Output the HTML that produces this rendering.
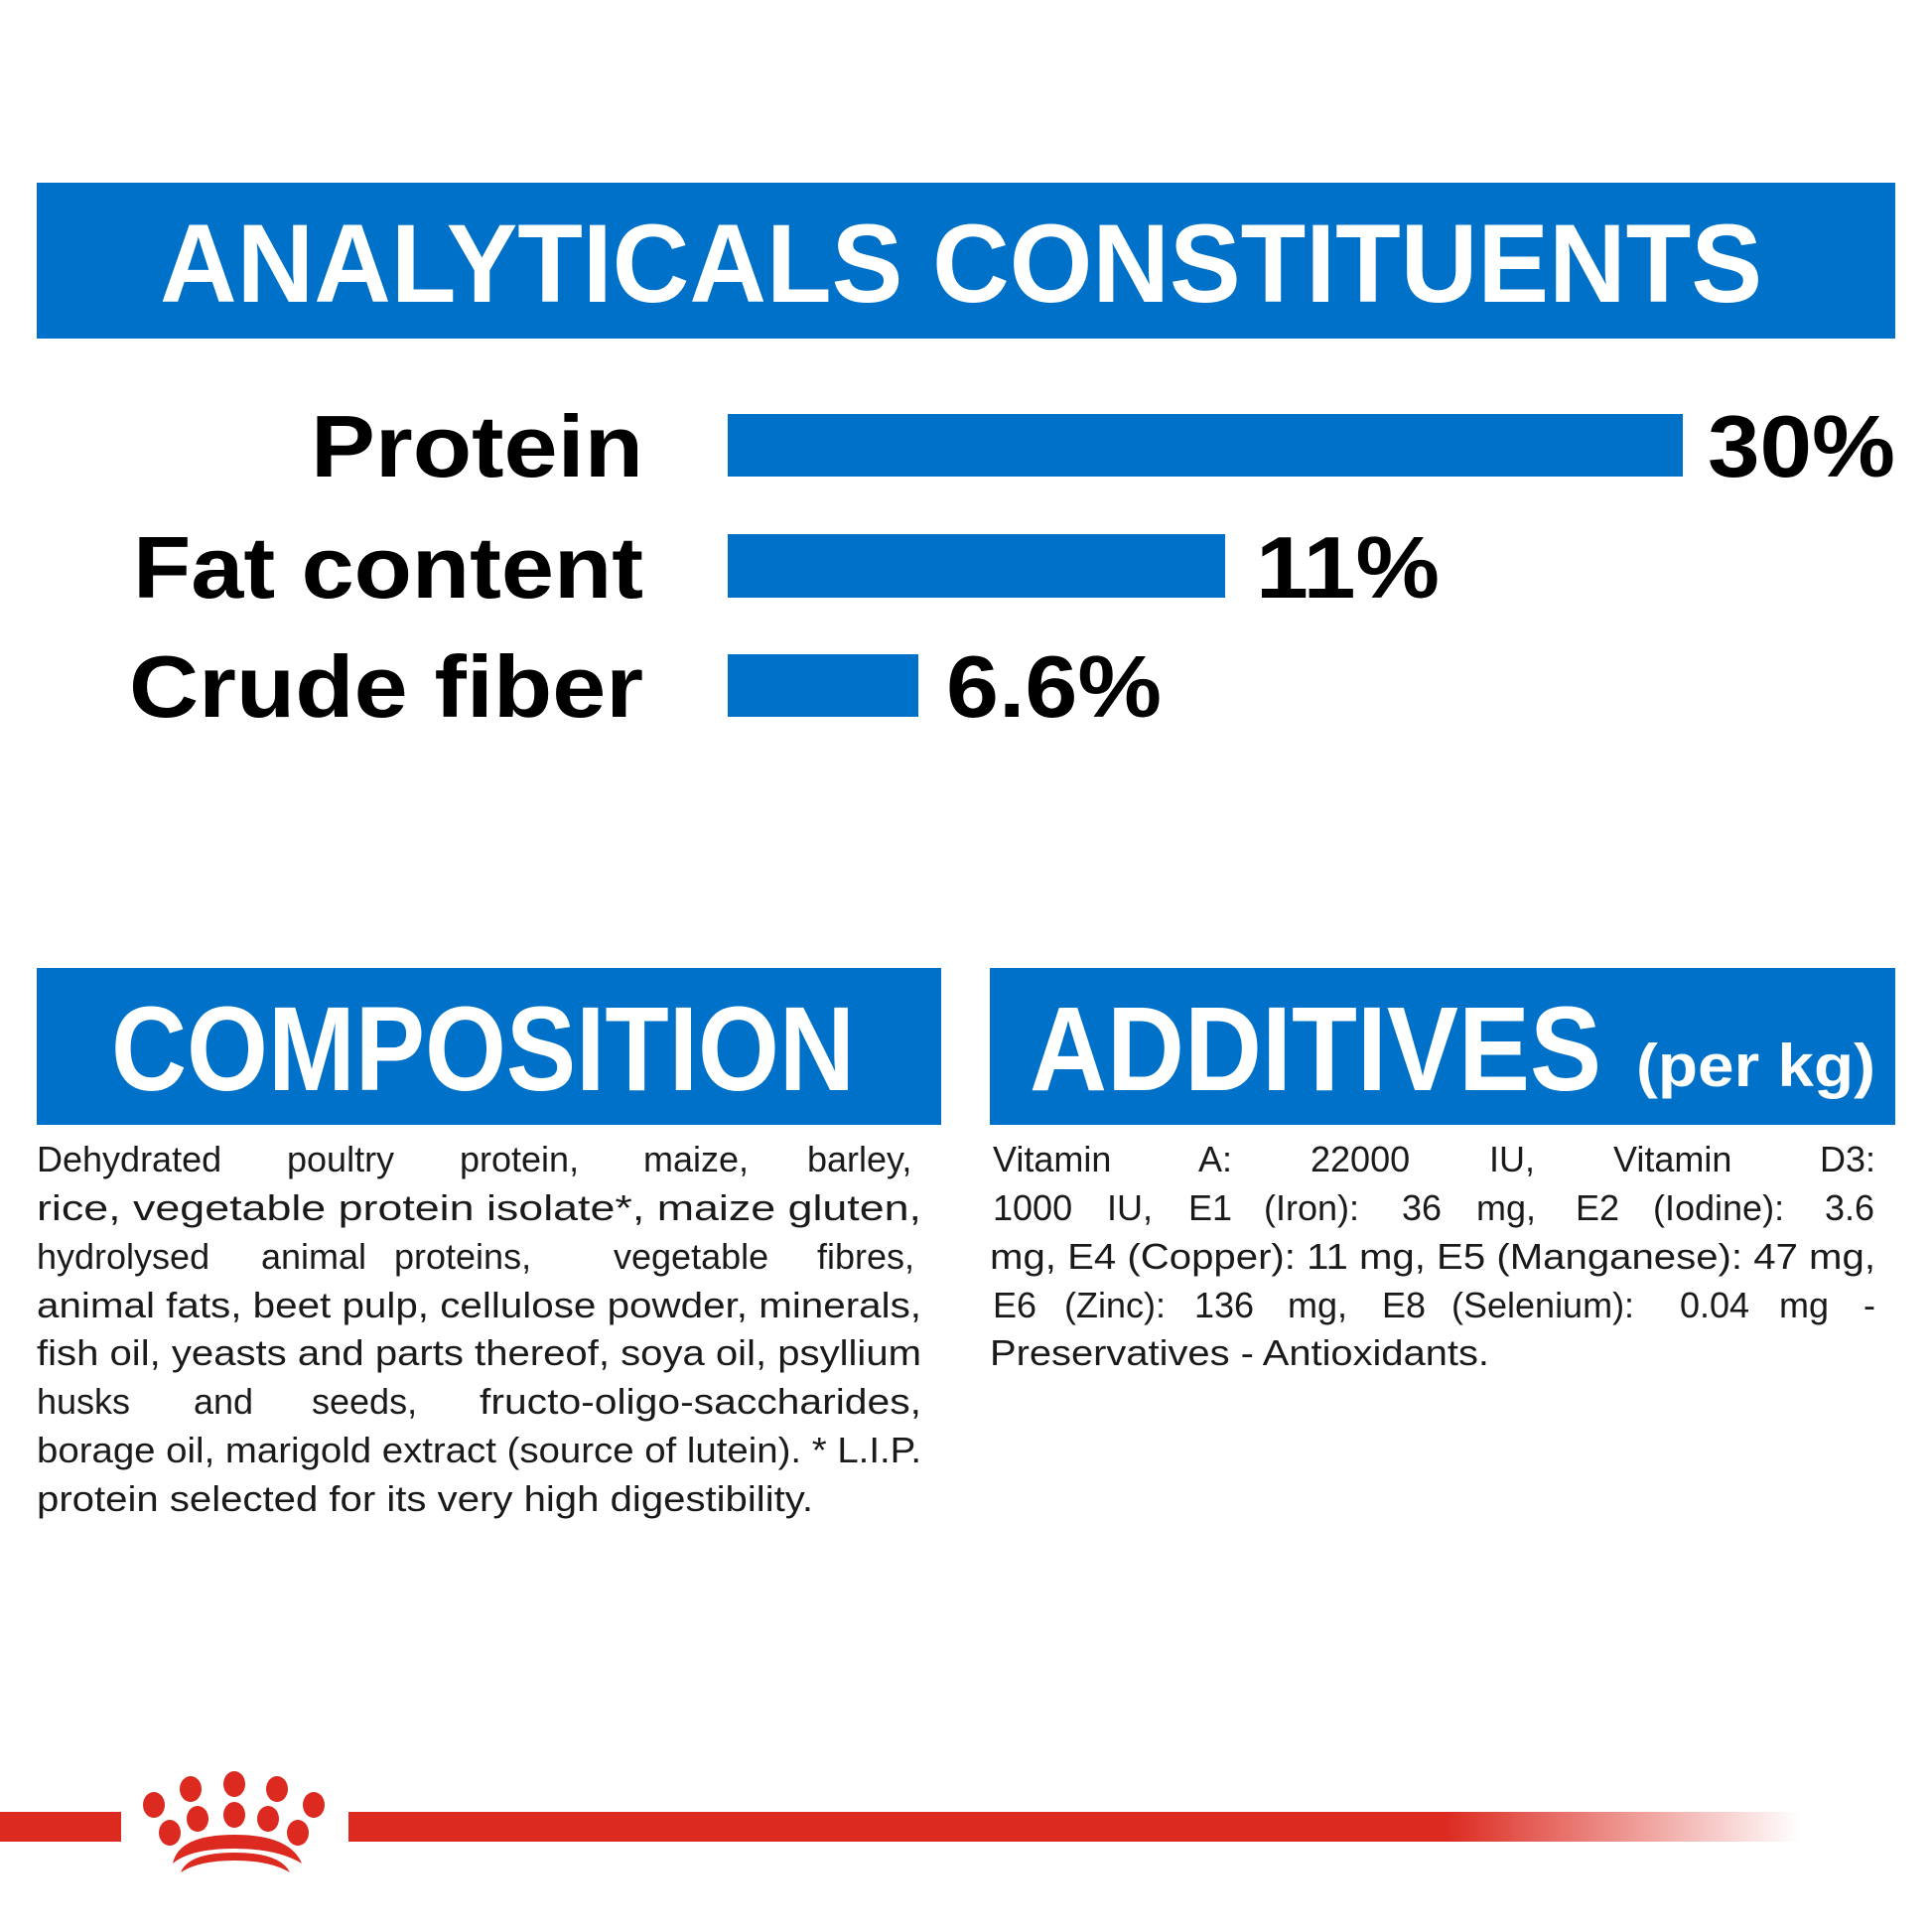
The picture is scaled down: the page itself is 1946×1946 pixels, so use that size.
<!DOCTYPE html>
<html><head><meta charset="utf-8"><style>
html,body{margin:0;padding:0;background:#fff;}
svg{display:block}
</style></head><body>
<svg width="1946" height="1946" viewBox="0 0 1946 1946" xmlns="http://www.w3.org/2000/svg">
<defs>
<linearGradient id="rg" x1="0" x2="1" y1="0" y2="0">
<stop offset="0" stop-color="#dc2a20"/>
<stop offset="0.755" stop-color="#dc2a20"/>
<stop offset="1" stop-color="#dc2a20" stop-opacity="0"/>
</linearGradient>
</defs>
<rect width="1946" height="1946" fill="#fff"/>
<g font-family="Liberation Sans, Arial, sans-serif" font-weight="bold">
<rect x="37" y="184" width="1872" height="157" fill="#0071c9"/>
<text x="161" y="304" font-size="112" fill="#fff" textLength="1614" lengthAdjust="spacingAndGlyphs">ANALYTICALS CONSTITUENTS</text>

<rect x="733" y="417" width="962" height="63" fill="#0071c9"/>
<rect x="733" y="538" width="501" height="64" fill="#0071c9"/>
<rect x="733" y="659" width="192" height="63" fill="#0071c9"/>
<g font-size="88" fill="#000">
<text x="313" y="480" textLength="335" lengthAdjust="spacingAndGlyphs">Protein</text>
<text x="134" y="602" textLength="514" lengthAdjust="spacingAndGlyphs">Fat content</text>
<text x="130" y="722" textLength="518" lengthAdjust="spacingAndGlyphs">Crude fiber</text>
<text x="1720" y="480" textLength="189" lengthAdjust="spacingAndGlyphs">30%</text>
<text x="1265" y="602" textLength="185" lengthAdjust="spacingAndGlyphs">11%</text>
<text x="953" y="722" textLength="217" lengthAdjust="spacingAndGlyphs">6.6%</text>
</g>

<rect x="37" y="975" width="911" height="158" fill="#0071c9"/>
<rect x="997" y="975" width="912" height="158" fill="#0071c9"/>
<text x="112" y="1098" font-size="121" fill="#fff" textLength="749" lengthAdjust="spacingAndGlyphs">COMPOSITION</text>
<text x="1037" y="1098" font-size="121" fill="#fff" textLength="576" lengthAdjust="spacingAndGlyphs">ADDITIVES</text>
<text x="1648" y="1094" font-size="60" fill="#fff" textLength="241" lengthAdjust="spacingAndGlyphs">(per kg)</text>
</g>

<g font-family="Liberation Sans, Arial, sans-serif" font-size="36" fill="#1a1a1a">
<text y="1180"><tspan x="37">Dehydrated</tspan><tspan x="289">poultry</tspan><tspan x="463">protein,</tspan><tspan x="648">maize,</tspan><tspan x="813">barley,</tspan></text>
<text x="37" y="1229" textLength="891" lengthAdjust="spacingAndGlyphs">rice, vegetable protein isolate*, maize gluten,</text>
<text y="1278"><tspan x="37">hydrolysed</tspan><tspan x="263">animal</tspan><tspan x="397">proteins,</tspan><tspan x="618">vegetable</tspan><tspan x="823">fibres,</tspan></text>
<text x="37" y="1327" textLength="891" lengthAdjust="spacingAndGlyphs">animal fats, beet pulp, cellulose powder, minerals,</text>
<text x="37" y="1375" textLength="891" lengthAdjust="spacingAndGlyphs">fish oil, yeasts and parts thereof, soya oil, psyllium</text>
<text y="1424"><tspan x="37">husks</tspan><tspan x="195">and</tspan><tspan x="314">seeds,</tspan><tspan x="483" textLength="445" lengthAdjust="spacingAndGlyphs">fructo-oligo-saccharides,</tspan></text>
<text x="37" y="1473" textLength="891" lengthAdjust="spacingAndGlyphs">borage oil, marigold extract (source of lutein). * L.I.P.</text>
<text x="37" y="1522" textLength="782" lengthAdjust="spacingAndGlyphs">protein selected for its very high digestibility.</text>

<text y="1180"><tspan x="1000">Vitamin</tspan><tspan x="1207">A:</tspan><tspan x="1320">22000</tspan><tspan x="1500">IU,</tspan><tspan x="1625">Vitamin</tspan><tspan x="1833">D3:</tspan></text>
<text y="1229"><tspan x="1000">1000</tspan><tspan x="1115">IU,</tspan><tspan x="1197">E1</tspan><tspan x="1273">(Iron):</tspan><tspan x="1412">36</tspan><tspan x="1487">mg,</tspan><tspan x="1587">E2</tspan><tspan x="1665">(Iodine):</tspan><tspan x="1838">3.6</tspan></text>
<text x="997" y="1278" textLength="892" lengthAdjust="spacingAndGlyphs">mg, E4 (Copper): 11 mg, E5 (Manganese): 47 mg,</text>
<text y="1327"><tspan x="1000">E6</tspan><tspan x="1072">(Zinc):</tspan><tspan x="1203">136</tspan><tspan x="1297">mg,</tspan><tspan x="1392">E8</tspan><tspan x="1462">(Selenium):</tspan><tspan x="1692">0.04</tspan><tspan x="1792">mg</tspan><tspan x="1877">-</tspan></text>
<text x="997" y="1375" textLength="503" lengthAdjust="spacingAndGlyphs">Preservatives - Antioxidants.</text>
</g>

<rect x="0" y="1825" width="122" height="30" fill="#dc2a20"/>
<rect x="351" y="1825" width="1462" height="30" fill="url(#rg)"/>
<g fill="#dc2a20">
<ellipse cx="192" cy="1802" rx="11" ry="13"/>
<ellipse cx="236" cy="1797" rx="11" ry="13"/>
<ellipse cx="279" cy="1802" rx="11" ry="13"/>
<ellipse cx="155" cy="1818" rx="11" ry="13"/>
<ellipse cx="316" cy="1818" rx="11" ry="13"/>
<ellipse cx="199" cy="1832" rx="11" ry="13"/>
<ellipse cx="236" cy="1828" rx="11" ry="13"/>
<ellipse cx="270" cy="1832" rx="11" ry="13"/>
<ellipse cx="171" cy="1846" rx="11" ry="13"/>
<ellipse cx="300" cy="1846" rx="11" ry="13"/>
<path d="M174 1877 Q180 1848 236 1848 Q292 1848 304 1877 Q280 1862 236 1862 Q192 1862 174 1877Z"/>
<path d="M182 1886 Q190 1866 236 1866 Q282 1866 292 1886 Q272 1874 236 1874 Q200 1874 182 1886Z"/>
</g>
</svg>
</body></html>
